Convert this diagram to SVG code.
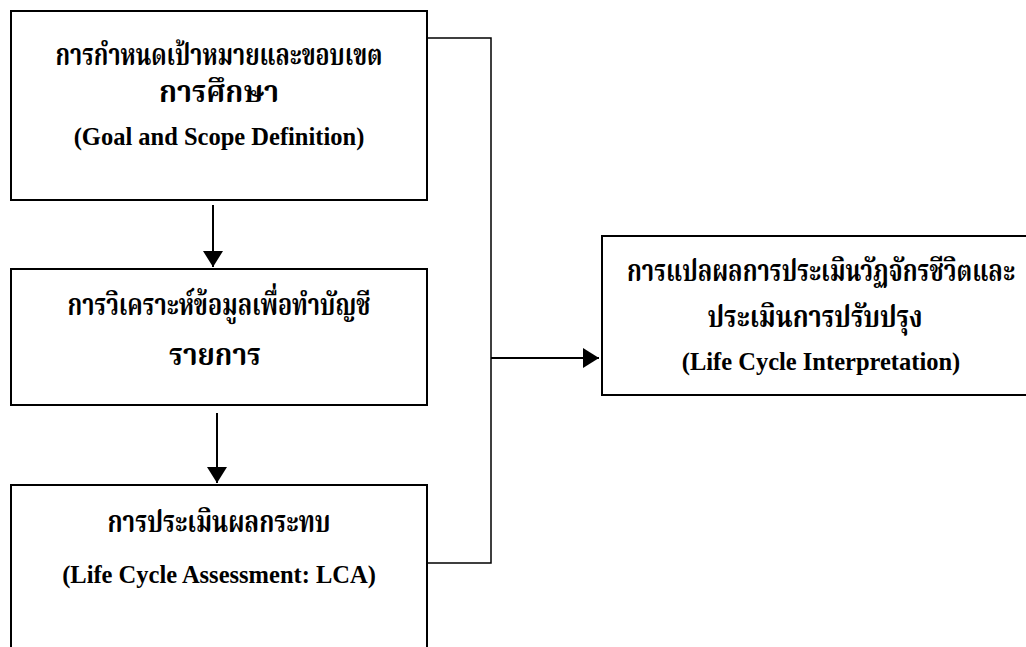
<svg xmlns="http://www.w3.org/2000/svg" width="1026" height="647" viewBox="0 0 1026 647">
  <style>
    .box { fill: #ffffff; stroke: #000000; stroke-width: 2; }
    .th { font-family: "Liberation Serif", "Noto Serif Thai", "Noto Sans Thai", serif; font-weight: bold; font-size: 30px; fill: #000000; text-anchor: middle; }
    .en { font-family: "Liberation Serif", "Times New Roman", serif; font-weight: bold; font-size: 24.5px; fill: #000000; text-anchor: middle; }
    .conn { fill: none; stroke: #000000; stroke-width: 1.5; }
    .arr { fill: none; stroke: #000000; stroke-width: 2; }
  </style>
  <defs>
    <marker id="ah" viewBox="0 0 16 20" refX="16" refY="10" markerWidth="16" markerHeight="20" markerUnits="userSpaceOnUse" orient="auto">
      <path d="M0,0 L16,10 L0,20 Z" fill="#000000"/>
    </marker>
  </defs>
  <rect width="1026" height="647" fill="#ffffff"/>

  <g id="node-goal">
    <rect class="box" x="11" y="11" width="416" height="189"/>
    <text class="th" x="219" y="65" textLength="327" lengthAdjust="spacingAndGlyphs">การกำหนดเป้าหมายและขอบเขต</text>
    <text class="th" x="219" y="102" textLength="120" lengthAdjust="spacingAndGlyphs">การศึกษา</text>
    <text class="en" x="219" y="145">(Goal and Scope Definition)</text>
  </g>

  <g id="node-inventory">
    <rect class="box" x="11" y="269" width="416" height="136"/>
    <text class="th" x="219" y="315" textLength="303" lengthAdjust="spacingAndGlyphs">การวิเคราะห์ข้อมูลเพื่อทำบัญชี</text>
    <text class="th" x="215" y="365" textLength="92" lengthAdjust="spacingAndGlyphs">รายการ</text>
  </g>

  <g id="node-impact">
    <rect class="box" x="11" y="485" width="416" height="180"/>
    <text class="th" x="219" y="532" textLength="223" lengthAdjust="spacingAndGlyphs">การประเมินผลกระทบ</text>
    <text class="en" x="219" y="583">(Life Cycle Assessment: LCA)</text>
  </g>

  <g id="node-interpretation">
    <rect class="box" x="602" y="236" width="440" height="159"/>
    <text class="th" x="821" y="281" textLength="388" lengthAdjust="spacingAndGlyphs">การแปลผลการประเมินวัฏจักรชีวิตและ</text>
    <text class="th" x="815" y="327" textLength="215" lengthAdjust="spacingAndGlyphs">ประเมินการปรับปรุง</text>
    <text class="en" x="821" y="370">(Life Cycle Interpretation)</text>
  </g>

  <g id="connectors">
    <line class="arr" x1="213" y1="205" x2="213" y2="267" marker-end="url(#ah)"/>
    <line class="arr" x1="217" y1="413" x2="217" y2="483" marker-end="url(#ah)"/>
    <polyline class="conn" points="427,38 491,38 491,563 427,563"/>
    <line class="arr" x1="491" y1="358" x2="599" y2="358" marker-end="url(#ah)"/>
  </g>
</svg>
